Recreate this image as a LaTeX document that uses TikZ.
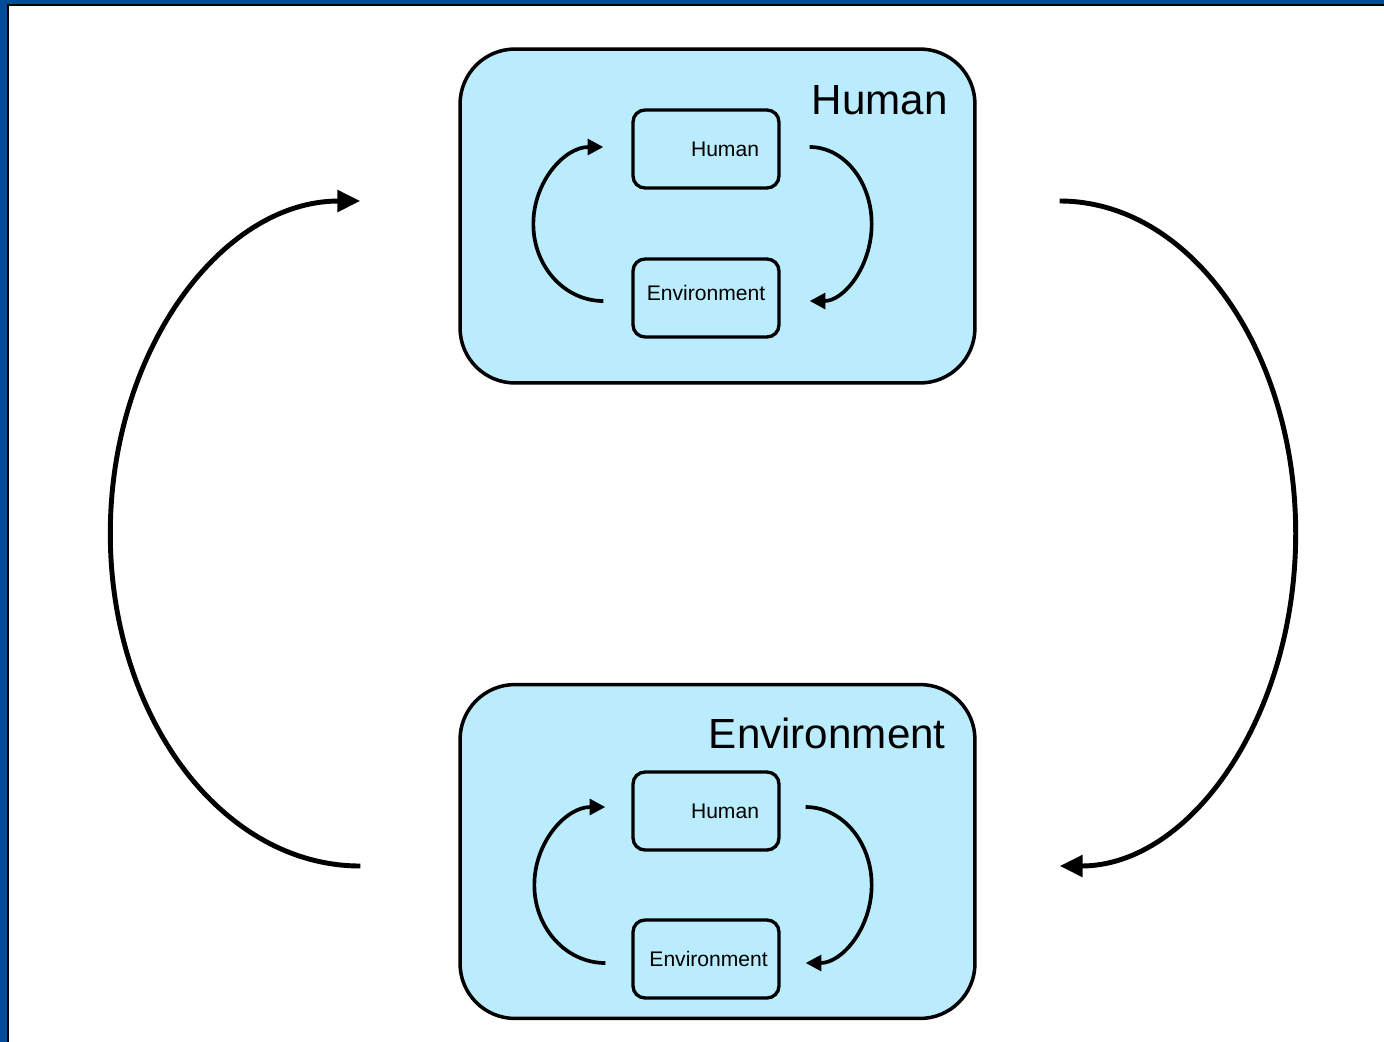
\documentclass[tikz,border=0pt]{standalone}
\usepackage{fontspec}
\setmainfont{Liberation Sans}
\usepackage{xcolor}
\usepackage{tikz}
\usetikzlibrary{
    positioning,
    arrows.meta
}
\definecolor{slideblue}{RGB}{0,76,155}
\definecolor{panelcyan}{RGB}{186,236,253}
\tikzset{
    panel/.style={
        rectangle, draw, line width=2pt, fill=panelcyan,
        minimum width=10.3cm, minimum height=6.68cm,
        rounded corners=1.1cm
    },
    smallbox/.style={
        rectangle, draw, line width=1.9pt,
        minimum width=2.92cm, minimum height=1.56cm,
        rounded corners=0.24cm, font=\fontsize{12}{14}\selectfont
    },
    humanbox/.style={
        smallbox, text width=2.12cm, inner xsep=0.4cm, align=right
    },
    paneltitle/.style={
        font=\fontsize{24}{28}\selectfont, inner sep=0pt
    },
    bigloop/.style={
        -{Triangle[length=13pt,width=12pt]}, line width=2.8pt
    },
    smallloop/.style={
        -{Triangle[length=9pt,width=9pt]}, line width=2.1pt
    }
}
\begin{document}
\begin{tikzpicture}[x=0.02cm, y=-0.02cm]
	\useasboundingbox (0,0) rectangle (1384,1042);

	% SLIDE FRAME
	\fill[slideblue] (0,0) rectangle (1384,1042);
	\fill[black] (7,4) rectangle (1384,1042);
	\fill[white] (8.5,5.5) rectangle (1384,1042);

	% NODES
	\node (top) [panel] at (717.5,216) {};
	\node (bottom) [panel] at (717.5,851.5) {};
	\node [paneltitle, anchor=base east] at (948,114) {Human};
	\node [paneltitle, anchor=base east] at (946,748) {Environment};

	\node (humA) [humanbox] at (706,149) {Human};
	\node (envA) [smallbox, text height=0.3cm, text depth=0.2cm] at (706,298) {Environment};
	\node (humB) [humanbox] at (706,811) {Human};
	\node (envB) [smallbox, inner xsep=0pt] at (706,959) {\hspace{3pt}Environment};

	% LOOSE ENDS
	\coordinate (outL) at ([shift={(-98,14.5)}]bottom.west);
	\coordinate (outR) at ([shift={(83,-15)}]top.east);
	\coordinate (inLA) at ([shift={(-28,3)}]envA.west);
	\coordinate (inRA) at ([shift={(29,-2)}]humA.east);
	\coordinate (inLB) at ([shift={(-26,4)}]envB.west);
	\coordinate (inRB) at ([shift={(25,-4)}]humB.east);

	% ARROWS
	\draw[bigloop] (outL) arc[start angle=90, end angle=270, x radius=250, y radius=332.5];
	\draw[bigloop] (outR) arc[start angle=270, end angle=450, x radius=236, y radius=332.5];

	\draw[smallloop] (inLA) arc[start angle=90, end angle=270, x radius=70, y radius=77];
	\draw[smallloop] (inRA) arc[start angle=270, end angle=450, x radius=62, y radius=77];
	\draw[smallloop] (inLB) arc[start angle=90, end angle=270, x radius=71, y radius=78];
	\draw[smallloop] (inRB) arc[start angle=270, end angle=450, x radius=66, y radius=78];

\end{tikzpicture}
\end{document}
